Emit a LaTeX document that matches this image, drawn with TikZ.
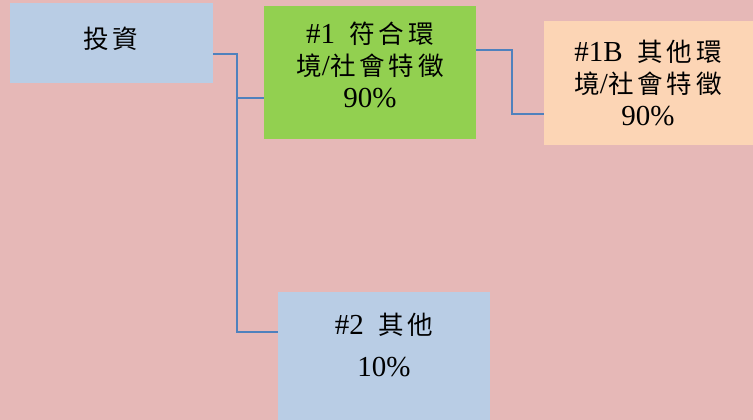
\documentclass[tikz,border=0pt]{standalone}
\usepackage{fontspec}
\setmainfont{Liberation Serif}
\newfontfamily\cjk[Scale=0.88,LetterSpace=15]{Noto Sans CJK TC}
\definecolor{bgpink}{HTML}{E6B8B7}
\definecolor{boxblue}{HTML}{B9CDE5}
\definecolor{boxgreen}{HTML}{92D050}
\definecolor{boxpeach}{HTML}{FCD5B5}
\definecolor{connblue}{HTML}{4F81BD}
\tikzset{
  box/.style={draw=none, inner sep=0pt, anchor=north west},
  label/.style={align=center, inner sep=0pt, font=\fontsize{29}{32}\selectfont},
  conn/.style={draw=connblue, line width=1.6pt}
}
\begin{document}
\begin{tikzpicture}[x=1pt, y=-1pt]
\fill[bgpink] (0,0) rectangle (753,420);
\useasboundingbox (0,0) rectangle (753,420);
% boxes
\node[box, fill=boxblue, minimum width=203pt, minimum height=80pt] (tz) at (10,3) {};
\node[box, fill=boxgreen, minimum width=212pt, minimum height=133pt] (g) at (264,6) {};
\node[box, fill=boxpeach, minimum width=209pt, minimum height=124pt] (p) at (544,21) {};
\node[box, fill=boxblue, minimum width=212pt, minimum height=128pt] (b2) at (278,292) {};
% texts
\node[label] (tzt) at (111,39) {{\cjk 投資}};
\node[label] (gt) at (370,65) {\#1\ \ {\cjk 符合環}\\{\cjk 境}/{\cjk 社會特徵}\\90\%};
\node[label] (pt) at (648,83) {\#1B\ \ {\cjk 其他環}\\{\cjk 境}/{\cjk 社會特徵}\\90\%};
\node[label, font=\fontsize{29}{42}\selectfont] (b2t) at (384,345) {\#2\ \ {\cjk 其他}\\10\%};
% connectors
\coordinate (j1) at (237,54);
\coordinate (j2) at (512,50);
\draw[conn] (tz.east |- j1) -- (j1) |- (b2.west |- 0,332);
\draw[conn] (j1 |- 0,98) -- (g.west |- 0,98);
\draw[conn] (g.east |- j2) -- (j2) |- (p.west |- 0,114);
\end{tikzpicture}
\end{document}
